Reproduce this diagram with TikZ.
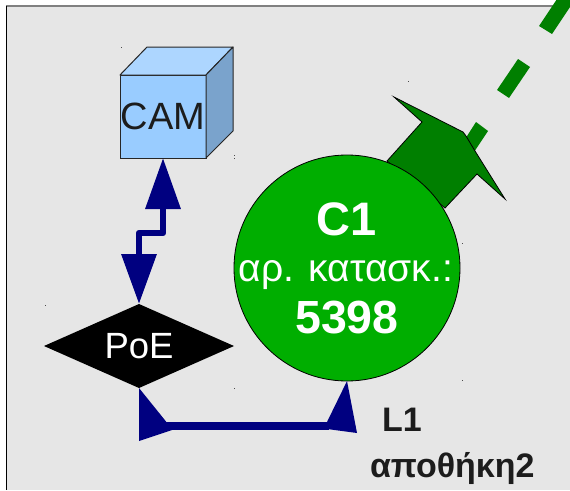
\documentclass[tikz,border=0pt]{standalone}
\usepackage{fontspec}
\setmainfont{Liberation Sans}
\usetikzlibrary{arrows.meta,calc,shapes.geometric}
\definecolor{navy}{HTML}{000080}
\definecolor{panel}{HTML}{E6E6E6}
\definecolor{darkgr}{HTML}{007F00}
\definecolor{lightgr}{HTML}{00AE00}
\definecolor{camface}{HTML}{99CCFF}
\definecolor{camtop}{HTML}{ADD6FF}
\definecolor{camside}{HTML}{7AA3CC}
\definecolor{ink}{HTML}{1C1C1C}
\tikzset{
 x=1pt,y=-1pt,
 conn/.style={draw=navy,line width=6.5pt,line join=round},
 tipfill/.style={fill=navy},
 cubeedge/.style={draw=black!85,line width=1pt,line join=round},
 lbl/.style={inner sep=0pt,outer sep=0pt,text=ink},
 speck/.style={fill=black!70},
}
\begin{document}
\begin{tikzpicture}
\useasboundingbox (0,0) rectangle (570,490);
\fill[white] (0,0) rectangle (570,490);
\fill[panel] (6,6) rectangle (570,490);
\draw[black!50,line width=1.6pt] (6,6) -- (570,6);
\draw[black,line width=1.4pt] (6.5,6) -- (6.5,490);
% fibre dashes
\begin{scope}
\clip (0,0) rectangle (570,490);
\fill[darkgr] (539,26) -- (552,34) -- (576,-2) -- (563,-10) -- cycle;
\fill[darkgr] (518,59) -- (530,67) -- (509,98) -- (497,90) -- cycle;
\fill[darkgr] (476,122) -- (488,131) -- (472,155) -- (460,147) -- cycle;
\end{scope}
% camera
\node[draw=black!85,line width=1pt,fill=camface,minimum width=86pt,minimum height=83pt,inner sep=0pt,outer sep=0pt,text=ink,font=\fontsize{38}{38}\selectfont] (cam) at (163,116.5) {CAM};
\fill[camtop,cubeedge] (cam.north west) -- ++(27,-28) -- ++(86,0) -- ($(cam.north east)$) -- cycle;
\fill[camside,cubeedge] (cam.north east) -- ++(27,-28) -- ++(0,84) -- (cam.south east) -- cycle;
% emitter
\fill[darkgr,draw=black,line width=0.8pt,line join=miter] (394,97) -- (422,122) -- (387,161) -- (445,208) -- (477,174) -- (505,199) -- (475,151) -- (466,136) -- (463,132) -- cycle;
% sensor body
\node[circle,draw=black,line width=0.8pt,fill=lightgr,minimum size=226pt,inner sep=0pt,outer sep=0pt] (c1) at (347,268) {};
\node[lbl,text=white,font=\bfseries\fontsize{47}{47}\selectfont,anchor=base] (c1a) at (347,235) {C1};
\node[lbl,text=white,font=\fontsize{39}{39}\selectfont,anchor=base] (c1b) at (346,281) {αρ. κατασκ.:};
\node[lbl,text=white,font=\bfseries\fontsize{46.5}{46.5}\selectfont,anchor=base] (c1c) at (347,333) {5398};
% PoE
\node[diamond,aspect=2.26,fill=black,inner sep=0pt,outer sep=0pt,minimum width=190pt,minimum height=84pt] (poe) at (139,346) {};
\node[lbl,text=white,font=\fontsize{36.5}{36.5}\selectfont] (poet) at (139,346) {PoE};
% connector CAM - PoE
\draw[conn,{Triangle[length=51pt,width=34pt]}-{Triangle[length=50pt,width=34pt]}] (cam.south) |- (poe.north |- 0,233) -- (poe.north);
% connector PoE - C1
\coordinate (la) at ($(poe.south)+(25,37.75)$);
\coordinate (lb) at ($(c1.south)+(-18,44.75)$);
\draw[conn,line width=7.5pt] (la) -- (lb);
\fill[tipfill] (poe.south) -- ++(0,53) -- ++(33,-11) -- ++(-3,-5) -- ++(-3,-3.5) -- cycle;
\fill[tipfill] (c1.south) -- ++(10,52) -- ++(-30,-4) -- ++(0,-7) -- cycle;
% labels
\node[lbl,font=\bfseries\fontsize{34}{34}\selectfont,anchor=base west] (l1) at (382,431) {L1};
\node[lbl,font=\bfseries\fontsize{34}{34}\selectfont,anchor=base west] (l2) at (370,477) {αποθήκη2};
% specks
\foreach \p in {(121,47),(234,155),(234,158),(45,305),(234,388),(408,81),(462,243),(462,380)}
 \fill[speck] \p ++(-0.5,-0.5) rectangle ++(1,1);
\end{tikzpicture}
\end{document}
